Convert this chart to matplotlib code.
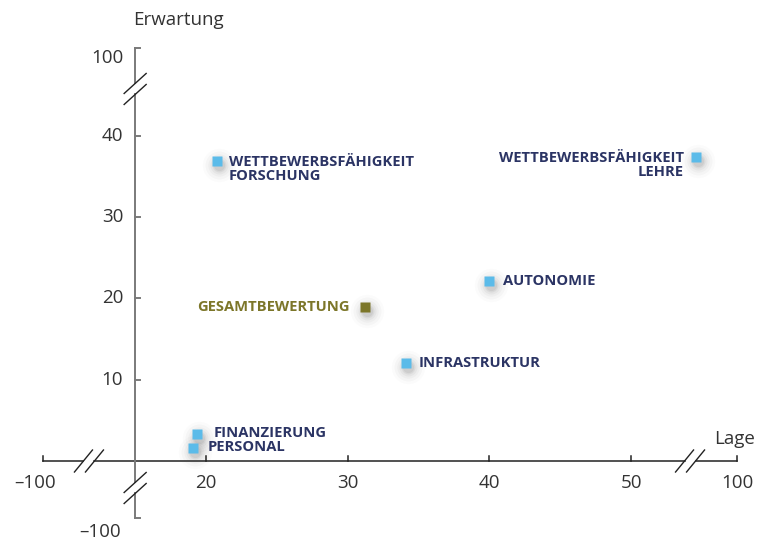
import matplotlib
matplotlib.use("Agg")
import matplotlib.pyplot as plt
import matplotlib.transforms as mtransforms

# Werte (Lage, Erwartung)
namen = ["WETTBEWERBSFÄHIGKEIT\nFORSCHUNG", "WETTBEWERBSFÄHIGKEIT\nLEHRE", "AUTONOMIE",
         "GESAMTBEWERTUNG", "INFRASTRUKTUR", "FINANZIERUNG", "PERSONAL"]
lage = [20.76, 54.56, 40.0, 31.2, 34.1, 19.4, 19.1]
erwartung = [36.9, 37.4, 22.2, 18.9, 12.1, 3.3, 1.6]
gesamt = [False, False, False, True, False, False, False]
# Textversatz in Pixeln (dx, dy) und Ausrichtung
versatz = [(12, -8), (-12, -8), (14, 0), (-15, 0), (13, 0), (16, 1), (14, 1)]
ausrichtung = ["left", "right", "left", "right", "left", "left", "left"]

x_ticks = [20, 30, 40, 50]
y_ticks = [10, 20, 30, 40]

W, H = 757, 541
fig = plt.figure(figsize=(W / 100, H / 100), dpi=100)
ax = fig.add_axes([0, 0, 1, 1])
# virtuelle Koordinaten: 1 Einheit x = 14.17 px, 1 Einheit y = 8.13 px
sx, sy = 14.17, 8.13
x0 = 20 - 206 / sx
y1 = 461 / sy
ax.set_xlim(x0, x0 + W / sx)
ax.set_ylim(y1 - H / sy, y1)
ax.axis("off")

plt.rcParams['font.family'] = ['Open Sans', 'DejaVu Sans']
navy = "#2b3464"
blau = "#5bbbe9"
oliv = "#7c7629"
grau = "#333333"

# Achsen mit Unterbrechungen
x_achse_start, x_achse_ende = 8.5, 57.47
x_bruch = [11.74, 54.16]
y_achse = 15.0
y_achse_start, y_achse_ende = -7.0, 50.8
y_bruch = [45.76, -3.32]
gx = 5.5 / sx
gy = 5.5 / sy

xk = "#222222"
ax.plot([x_achse_start, x_bruch[0] - gx], [0, 0], color=xk, lw=1.1)
ax.plot([x_bruch[0] + gx, x_bruch[1] - gx], [0, 0], color=xk, lw=1.1)
ax.plot([x_bruch[1] + gx, x_achse_ende], [0, 0], color=xk, lw=1.1)
yk = "#7a7a7a"
ax.plot([y_achse, y_achse], [y_achse_start, y_bruch[1] - gy], color=yk, lw=1.4)
ax.plot([y_achse, y_achse], [y_bruch[1] + gy, y_bruch[0] - gy], color=yk, lw=1.4)
ax.plot([y_achse, y_achse], [y_bruch[0] + gy, y_achse_ende], color=yk, lw=1.4)

# Schrägstriche
for bx in x_bruch:
    for s in (-1, 1):
        cx = bx + s * gx
        ax.plot([cx - 9 / sx, cx + 9 / sx], [-11 / sy, 11 / sy], color="#222222", lw=1.0)
for by in y_bruch:
    for s in (-1, 1):
        cy = by + s * gy
        ax.plot([y_achse - 11 / sx, y_achse + 11 / sx], [cy - 10 / sy, cy + 10 / sy],
                color="#222222", lw=1.0)

# Ticks
tl = 5
for t in x_ticks + [x_achse_start, x_achse_ende]:
    ax.plot([t, t], [0, tl / sy], color=xk, lw=1.1)
for t in y_ticks + [y_achse_start, y_achse_ende]:
    ax.plot([y_achse, y_achse + tl / sx], [t, t], color=yk, lw=1.4)

fs = 13.5
for t in x_ticks:
    ax.text(t, -22 / sy, str(t), ha="center", va="center", fontsize=fs, color=grau)
ax.text(x_achse_start - 8 / sx, -22 / sy, "\u2013100", ha="center", va="center", fontsize=fs, color=grau)
ax.text(x_achse_ende, -22 / sy, "100", ha="center", va="center", fontsize=fs, color=grau)
for t in y_ticks:
    ax.text(y_achse - 12 / sx, t, str(t), ha="right", va="center", fontsize=fs, color=grau)
ax.text(y_achse - 12 / sx, y_achse_ende - 10 / sy, "100", ha="right", va="center", fontsize=fs, color=grau)
ax.text(y_achse - 35 / sx, y_achse_start - 14 / sy, "\u2013100", ha="center", va="center", fontsize=fs, color=grau)
ax.text(x_achse_ende - 2 / sx, 22 / sy, "Lage", ha="center", va="center", fontsize=fs, color=grau)
ax.text(y_achse - 2 / sx, y_achse_ende + 28 / sy, "Erwartung", ha="left", va="center", fontsize=fs, color=grau)

# Punkte mit weichem Schatten
schatten = mtransforms.offset_copy(ax.transData, fig=fig, x=2, y=-4, units="dots")
for i in range(len(namen)):
    for ms, a in [(24, 0.02), (20, 0.03), (16, 0.04), (13, 0.05), (10, 0.07), (8, 0.08)]:
        ax.plot(lage[i], erwartung[i], marker="o", ms=ms, color="#444444", alpha=a,
                mec="none", transform=schatten, zorder=3)
    farbe = oliv if gesamt[i] else blau
    ax.plot(lage[i], erwartung[i], marker="s", ms=6.5, color=farbe, mec="none", zorder=4)
    tf = oliv if gesamt[i] else navy
    dx, dy = versatz[i]
    ax.annotate(namen[i], (lage[i], erwartung[i]), xytext=(dx * 0.72, dy * 0.72),
                textcoords="offset points", ha=ausrichtung[i], va="center",
                fontsize=10.6, fontweight="bold", color=tf, linespacing=1.0, zorder=5,
                multialignment=ausrichtung[i])

fig.savefig("out.png", dpi=100)
